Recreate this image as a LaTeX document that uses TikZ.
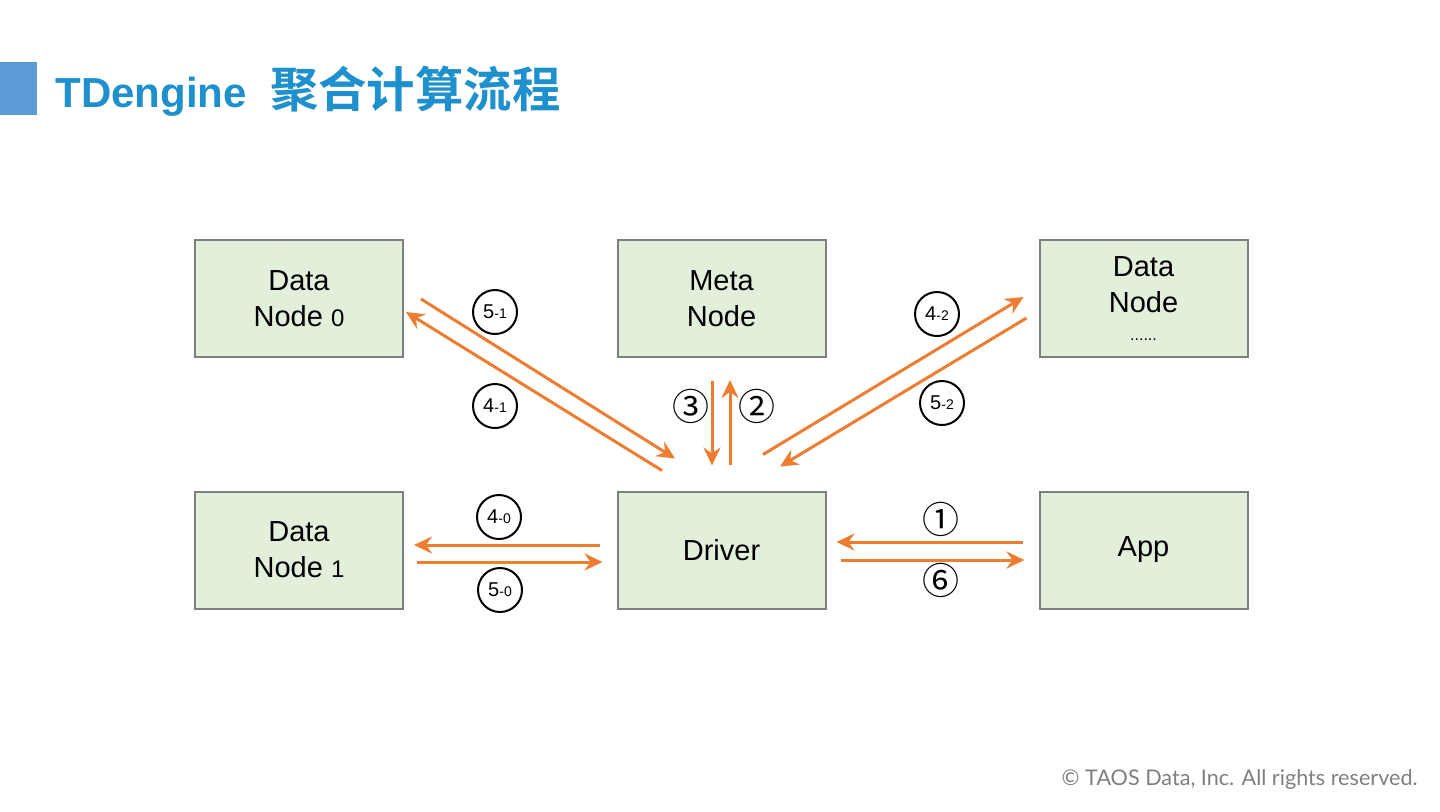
\documentclass[tikz,border=0pt]{standalone}
\usepackage{fontspec}
\setmainfont{Liberation Sans}
\newfontfamily\cjk[BoldFont={Noto Sans CJK SC Bold}]{Noto Sans CJK SC}
\newfontfamily\lato{Lato}
\usetikzlibrary{arrows.meta,calc}
\definecolor{boxgreen}{RGB}{226,239,218}
\definecolor{boxline}{RGB}{127,127,127}
\definecolor{flow}{RGB}{237,125,49}
\definecolor{titleblue}{RGB}{30,144,205}
\definecolor{barblue}{RGB}{91,155,213}
\definecolor{footgray}{RGB}{127,127,127}

\begin{document}
\begin{tikzpicture}[
  x=0.5pt, y=-0.5pt,
  every node/.style={align=center, inner sep=0pt},
  nodebox/.style={draw=boxline, line width=1pt, fill=boxgreen, minimum width=104pt, minimum height=58.5pt, font=\fontsize{14.5}{18}\selectfont},
  flowarrow/.style={draw=flow, line width=1.5pt, -{Stealth[length=9pt,width=8.5pt,inset=3pt]}},
  stepmark/.style={draw, circle, line width=1pt, minimum size=22pt, font=\fontsize{10}{10}\selectfont},
  seqnum/.style={font=\cjk\fontsize{18.5}{18.5}\selectfont}
]
\useasboundingbox (0,0) rectangle (1440,811);

% title
\fill[barblue] (0,62) rectangle (37,115);
\node[anchor=base west, text=titleblue] (title) at (55,107)
  {\fontsize{21}{21}\selectfont\bfseries TDengine\ \ {\cjk\bfseries\fontsize{24.2}{24.2}\selectfont 聚合计算流程}};

% boxes
\node[nodebox] (dn0)  at (299,298.5)    {Data\\Node {\fontsize{12}{12}\selectfont 0}};
\node[nodebox] (meta) at (721.5,298.5)  {Meta\\Node };
\node[nodebox] (dnx)  at (1143.5,298.5) {Data\\Node \\[-4pt]{\fontsize{8}{8}\selectfont ......}};
\node[nodebox] (dn1)  at (299,550)      {Data\\Node {\fontsize{12}{12}\selectfont 1}};
\node[nodebox] (drv)  at (721.5,550)    {Driver};
\node[nodebox] (app)  at (1143.5,550)   {App};

% flows
\draw[flowarrow] ($(dn0.east)+(17,0.5)$) -- ($(drv.north)+(-46.5,-32)$);
\draw[flowarrow] ($(drv.north)+(-59.5,-20)$) -- ($(dn0.east)+(2,13.5)$);
\draw[flowarrow] ($(meta.south)+(-9.5,23)$) -- ($(drv.north)+(-9.5,-25)$);
\draw[flowarrow] ($(drv.north)+(8.5,-26)$) -- ($(meta.south)+(8.5,22)$);
\draw[flowarrow] ($(drv.north)+(41.5,-36)$) -- ($(dnx.west)+(-15,-1.5)$);
\draw[flowarrow] ($(dnx.west)+(-12,19.5)$) -- ($(drv.north)+(58.5,-24)$);
\draw[flowarrow] ($(drv.west)+(-17,-5)$) -- ($(dn1.east)+(10,-5)$);
\draw[flowarrow] ($(dn1.east)+(13,12)$) -- ($(drv.west)+(-14,12)$);
\draw[flowarrow] ($(app.west)+(-16,-8)$) -- ($(drv.east)+(10,-8)$);
\draw[flowarrow] ($(drv.east)+(14,10)$) -- ($(app.west)+(-14,10)$);

% step labels
\node[stepmark] (s51) at (495,312) {5{\fontsize{7}{7}\selectfont-1}};
\node[stepmark] (s41) at (495,406) {4{\fontsize{7}{7}\selectfont-1}};
\node[stepmark] (s42) at (937,314) {4{\fontsize{7}{7}\selectfont-2}};
\node[stepmark] (s52) at (942,403) {5{\fontsize{7}{7}\selectfont-2}};
\node[stepmark] (s40) at (499,517) {4{\fontsize{7}{7}\selectfont-0}};
\node[stepmark] (s50) at (500,590) {5{\fontsize{7}{7}\selectfont-0}};
\node[seqnum] (n3) at (691,406) {③};
\node[seqnum] (n2) at (757,406) {②};
\node[seqnum] (n1) at (941,519) {①};
\node[seqnum] (n6) at (941,580) {⑥};

% footer
\node[anchor=base east, text=footgray, font=\lato\fontsize{10.8}{10.8}\selectfont] (foot) at (1418,785)
  {© TAOS Data, Inc. All rights reserved.};
\end{tikzpicture}
\end{document}
